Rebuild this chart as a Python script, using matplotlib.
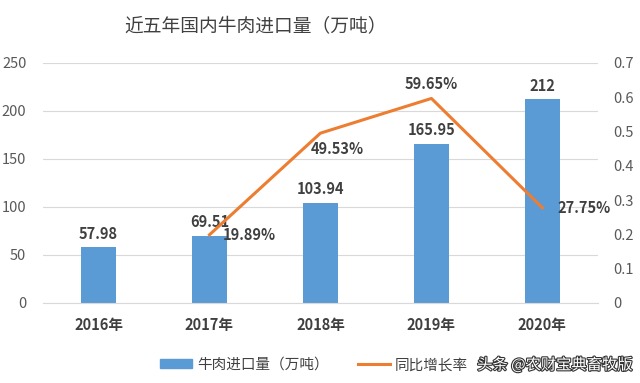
import numpy as np
import matplotlib.pyplot as plt
from matplotlib.patches import Patch
from matplotlib.lines import Line2D
import matplotlib.patheffects as pe

plt.rcParams['font.family'] = ['Noto Sans CJK SC', 'DejaVu Sans']

years = ['2016年', '2017年', '2018年', '2019年', '2020年']
imports = [57.98, 69.51, 103.94, 165.95, 212]
growth = [None, 0.1989, 0.4953, 0.5965, 0.2775]
growth_labels = ['', '19.89%', '49.53%', '59.65%', '27.75%']

blue = '#5B9BD5'
orange = '#ED7D31'
txt = '#404040'
tick = '#595959'
grid = '#D9D9D9'

fig = plt.figure(figsize=(6.4, 3.83), dpi=100)
ax = fig.add_axes([0.0672, 0.209, 0.867, 0.6266])
ax2 = ax.twinx()

x = np.arange(len(years))
ax.bar(x, imports, width=0.31, color=blue, zorder=2)
for xi, v in zip(x, imports):
    ax.text(xi, v + 6, f'{v:g}', ha='center', va='bottom', fontsize=10.5,
            fontweight='bold', color=txt)

gx = [xi for xi, g in zip(x, growth) if g is not None]
gy = [g for g in growth if g is not None]
ax2.plot(gx, gy, color=orange, lw=2.2, zorder=3)

# label placement relative to each point: dx (categories), dy (axis units)
offsets = {1: (0.12, 0.0, 'left', 'center'),
           2: (0.15, -0.047, 'center', 'center'),
           3: (0.0, 0.041, 'center', 'center'),
           4: (0.14, 0.0, 'left', 'center')}
for i, (dx, dy, ha, va) in offsets.items():
    ax2.text(x[i] + dx, growth[i] + dy, growth_labels[i], ha=ha, va=va,
             fontsize=10.5, fontweight='bold', color=txt, zorder=4)

ax.set_xlim(-0.5, 4.5)
ax.set_ylim(0, 250)
ax.set_yticks(range(0, 251, 50))
ax2.set_ylim(0, 0.7)
ax2.set_yticks(np.arange(0, 0.71, 0.1))
ax2.set_yticklabels(['0'] + [f'{v:.1f}' for v in np.arange(0.1, 0.71, 0.1)])
ax.set_xticks(x)
ax.set_xticklabels(years, fontweight='bold')
ax.yaxis.grid(True, color=grid, lw=0.8, zorder=0)
ax.set_axisbelow(True)

for a in (ax, ax2):
    for s in a.spines.values():
        s.set_visible(False)
    a.tick_params(length=0, colors=tick, labelsize=10.5)
ax.spines['bottom'].set_visible(True)
ax.spines['bottom'].set_color(grid)
ax.tick_params(axis='x', pad=10, labelcolor=txt)
ax.tick_params(axis='y', pad=12)
ax2.tick_params(axis='y', pad=11)

fig.text(0.40, 0.93, '近五年国内牛肉进口量（万吨）', ha='center', va='center',
         fontsize=13.5, color=txt)

handles = [Patch(color=blue), Line2D([0], [0], color=orange, lw=2.2)]
fig.legend(handles, ['牛肉进口量（万吨）', '同比增长率'], loc='center left',
           bbox_to_anchor=(0.25, 0.047), ncol=2, frameon=False, fontsize=10.5,
           labelcolor=txt, handlelength=2.2, handleheight=0.6,
           handletextpad=0.35, columnspacing=2.0, borderpad=0,
           borderaxespad=0)

fig.text(0.988, 0.047, '头条 @农财宝典畜牧版', ha='right', va='center',
         fontsize=11, color='white',
         path_effects=[pe.withStroke(linewidth=1.6, foreground='#333333')])

fig.savefig('out.png', dpi=100)
